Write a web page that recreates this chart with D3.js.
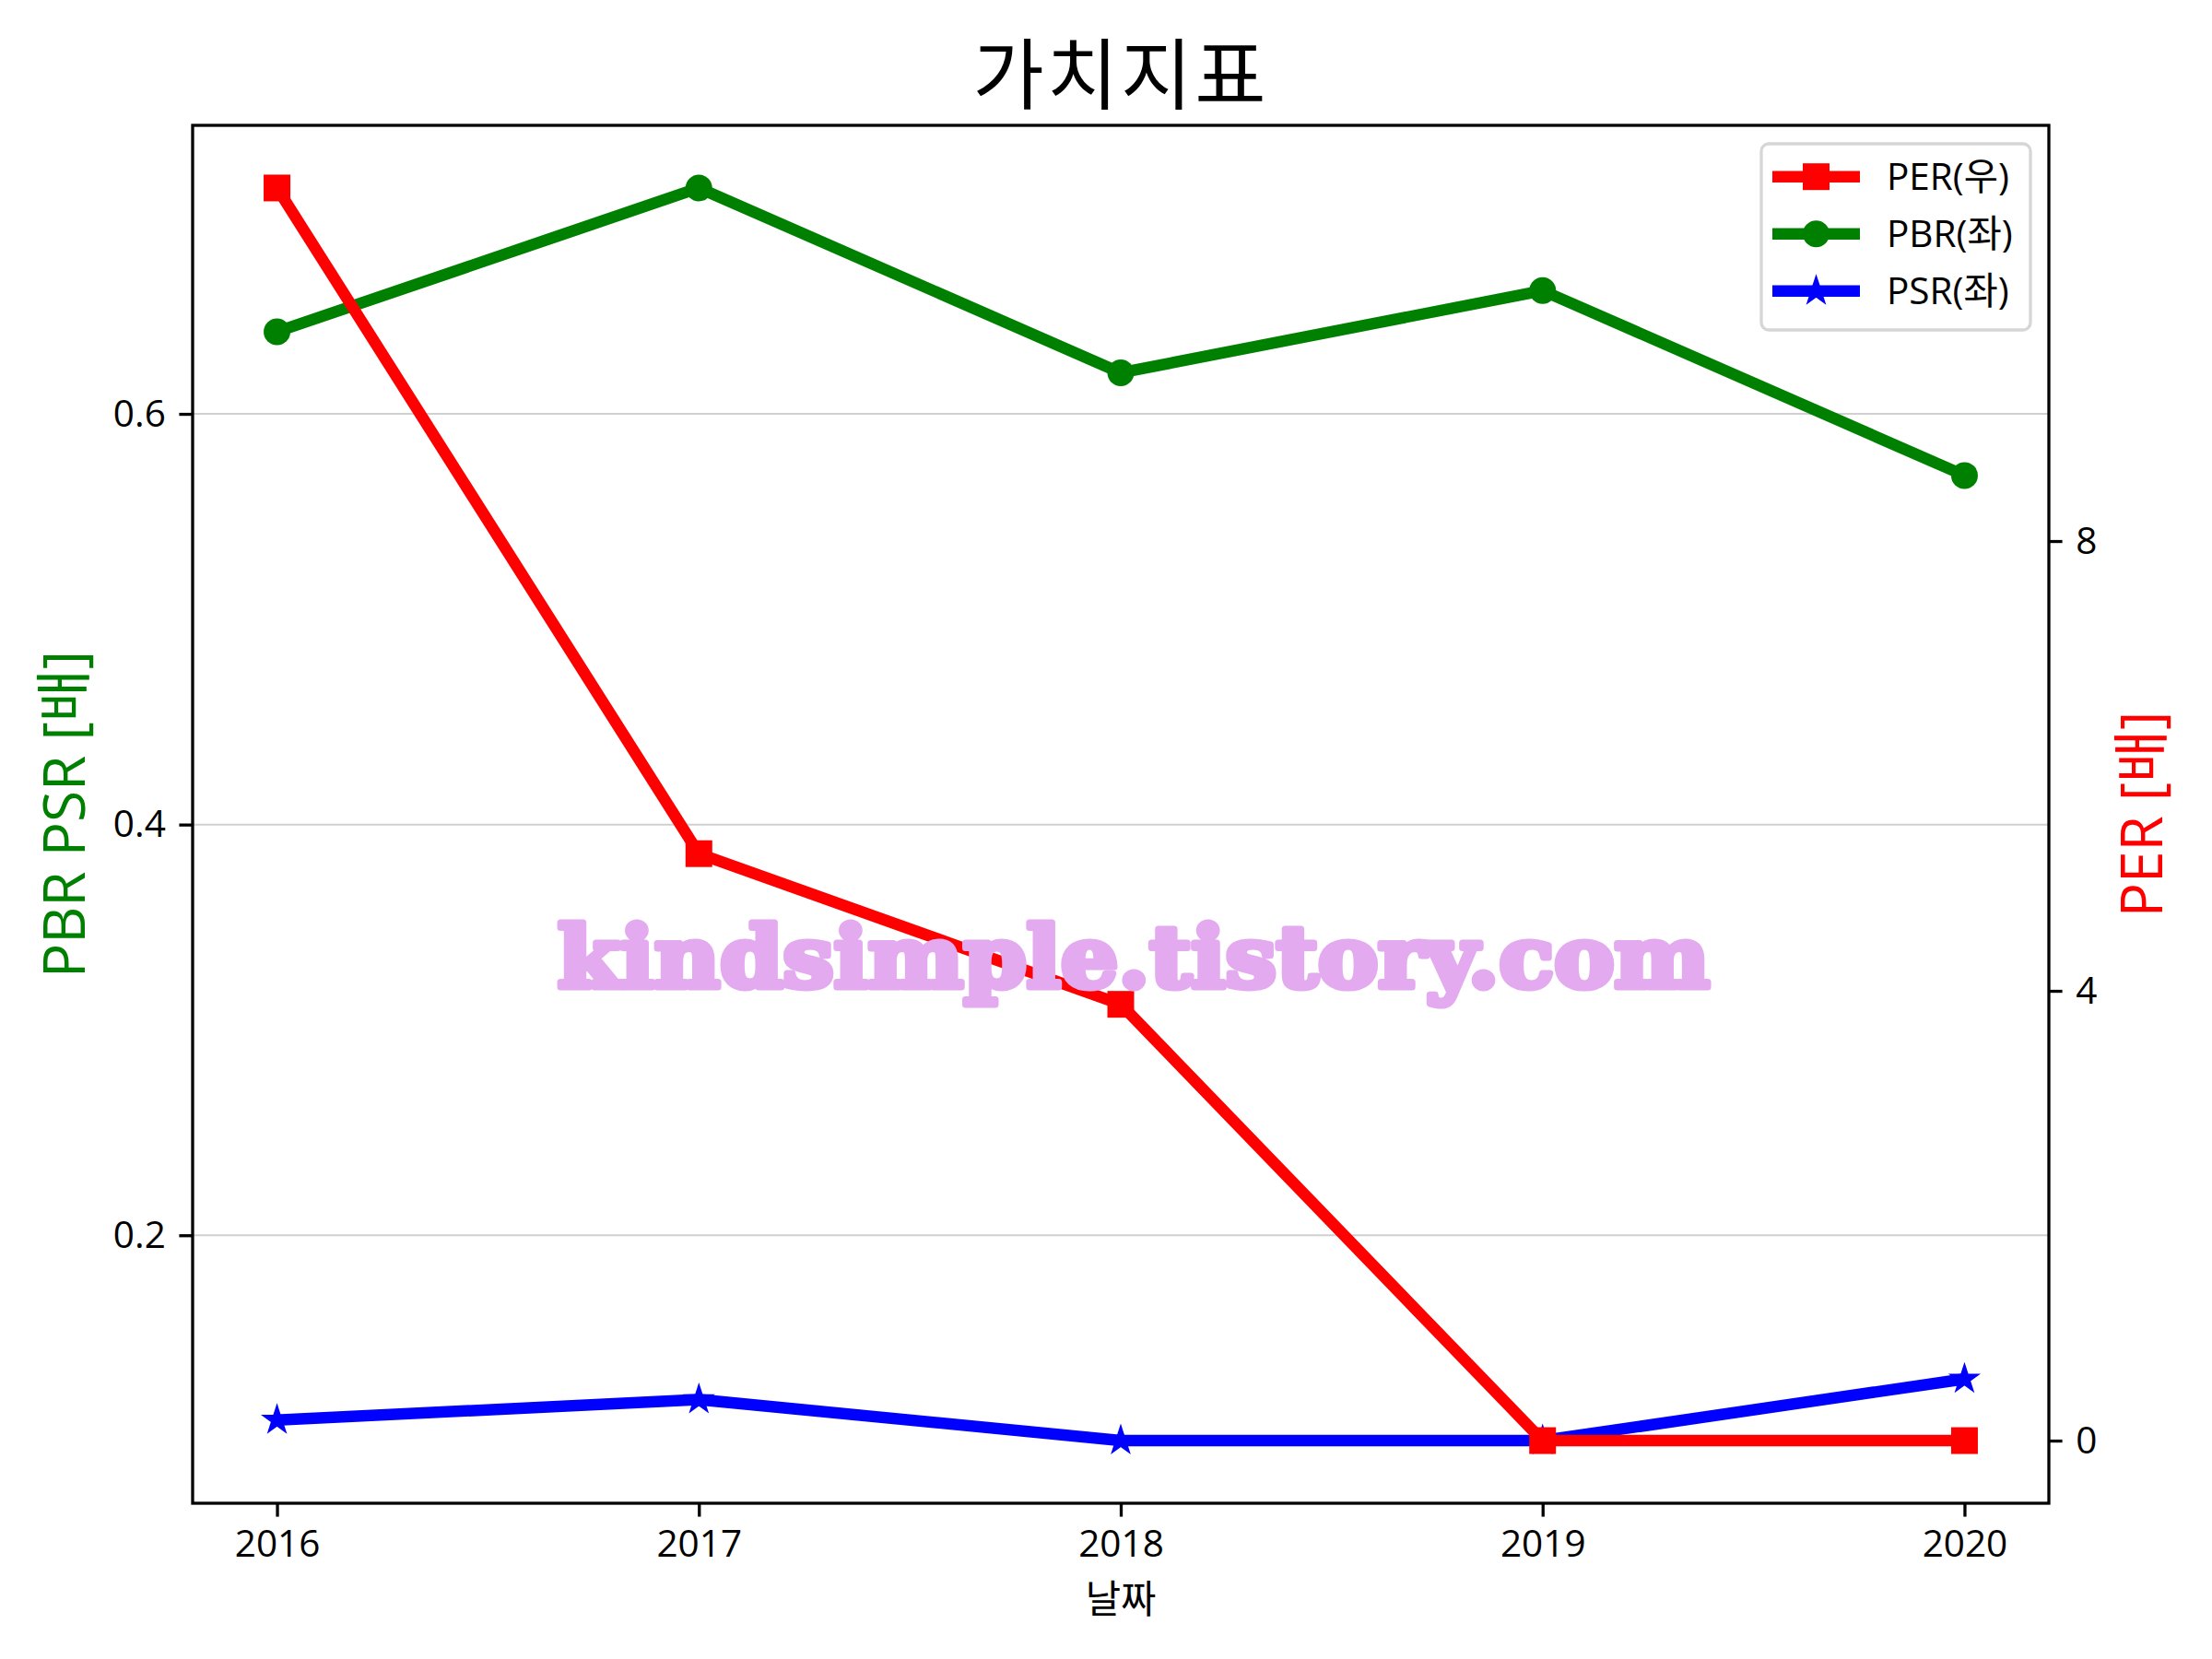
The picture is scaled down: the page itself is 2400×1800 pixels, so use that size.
<!DOCTYPE html>
<html>
<head>
<meta charset="utf-8">
<script src="https://cdn.jsdelivr.net/npm/d3@7"></script>
<style>
  html, body { margin: 0; padding: 0; background: #fff; }
  svg { display: block; }
  text { font-family: "Open Sans", "Noto Sans CJK KR", sans-serif; }
</style>
</head>
<body>
<svg id="chart" width="2400" height="1800"></svg>
<script>
// ---- data ----
const years = [2016, 2017, 2018, 2019, 2020];
const perValues = [11.14, 5.22, 3.88, 0, 0];       // right axis
const pbrValues = [0.64, 0.71, 0.62, 0.66, 0.57];   // left axis
const psrValues = [0.11, 0.12, 0.10, 0.10, 0.13];   // left axis
const leftTicks = [0.2, 0.4, 0.6];
const rightTicks = [0, 4, 8];
const xTicks = [2016, 2017, 2018, 2019, 2020];
const titleText = "가치지표";
const xLabel = "날짜";
const leftLabel = "PBR PSR [배]";
const rightLabel = "PER [배]";
const legendLabels = ["PER(우)", "PBR(좌)", "PSR(좌)"];
const watermark = "kindsimple.tistory.com";

// ---- layout ----
const L = 209, R = 2223, T = 136, B = 1631;
const tickFont = 40.5, tick = 14.6, spineW = 3.3;
const lw = 12.5, ms = 29;

const svg = d3.select("#chart");

function padDomain(vals) {
  const mn = d3.min(vals), mx = d3.max(vals), m = (mx - mn) * 0.05;
  return [mn - m, mx + m];
}
const x = d3.scaleLinear().domain(padDomain(years)).range([L, R]);
const yL = d3.scaleLinear().domain(padDomain(pbrValues.concat(psrValues))).range([B, T]);
const yR = d3.scaleLinear().domain(padDomain(perValues)).range([B, T]);

// grid
svg.append("g").selectAll("line").data(leftTicks).join("line")
  .attr("x1", L).attr("x2", R)
  .attr("y1", d => yL(d)).attr("y2", d => yL(d))
  .attr("stroke", "#d0d0d0").attr("stroke-width", 2);

const plot = svg.append("g");

function starPath(r) {
  const ri = r * 0.381966, pts = [];
  for (let i = 0; i < 10; i++) {
    const a = -Math.PI / 2 + i * Math.PI / 5;
    const rr = i % 2 === 0 ? r : ri;
    pts.push([rr * Math.cos(a), rr * Math.sin(a)]);
  }
  return "M" + pts.map(p => p.join(",")).join("L") + "Z";
}

function drawSeries(vals, yScale, color, marker) {
  const g = plot.append("g");
  const line = d3.line().x((d, i) => x(years[i])).y(d => yScale(d));
  g.append("path").attr("d", line(vals)).attr("fill", "none")
    .attr("stroke", color).attr("stroke-width", lw).attr("stroke-linejoin", "round")
    .attr("stroke-linecap", "butt");
  const pts = g.selectAll("g.m").data(vals).join("g")
    .attr("transform", (d, i) => `translate(${x(years[i])},${yScale(d)})`);
  drawMarker(pts, color, marker);
}
function drawMarker(sel, color, marker) {
  if (marker === "square") {
    sel.append("rect").attr("x", -ms / 2).attr("y", -ms / 2).attr("width", ms).attr("height", ms).attr("fill", color);
  } else if (marker === "circle") {
    sel.append("circle").attr("r", ms / 2).attr("fill", color);
  } else {
    sel.append("path").attr("d", starPath(12)).attr("fill", color)
      .attr("stroke", color).attr("stroke-width", 4).attr("stroke-linejoin", "miter");
  }
}

drawSeries(pbrValues, yL, "#008000", "circle");
drawSeries(psrValues, yL, "#0000ff", "star");
drawSeries(perValues, yR, "#ff0000", "square");

// watermark
svg.append("text").attr("x", 1230).attr("y", 1071)
  .attr("text-anchor", "middle")
  .attr("textLength", 1250).attr("lengthAdjust", "spacingAndGlyphs")
  .style("font-family", "'DejaVu Serif', serif").style("font-weight", "bold")
  .style("font-size", "92px").attr("fill", "#e4aaef")
  .attr("stroke", "#e4aaef").attr("stroke-width", 7).attr("stroke-linejoin", "round")
  .text(watermark);

// axes
function styleAxis(g) {
  g.selectAll("text").style("font-size", tickFont + "px").attr("fill", "#000");
  g.selectAll(".tick line").attr("stroke", "#000").attr("stroke-width", spineW);
  g.select(".domain").remove();
}
const gx = svg.append("g").attr("transform", `translate(0,${B})`)
  .call(d3.axisBottom(x).tickValues(xTicks).tickFormat(d3.format("d")).tickSize(tick).tickPadding(tick));
styleAxis(gx);
gx.selectAll("text").attr("dy", "0.71em");

const gl = svg.append("g").attr("transform", `translate(${L},0)`)
  .call(d3.axisLeft(yL).tickValues(leftTicks).tickFormat(d3.format(".1f")).tickSize(tick).tickPadding(tick));
styleAxis(gl);

const gr = svg.append("g").attr("transform", `translate(${R},0)`)
  .call(d3.axisRight(yR).tickValues(rightTicks).tickFormat(d3.format("d")).tickSize(tick).tickPadding(tick));
styleAxis(gr);

// frame
svg.append("rect").attr("x", L).attr("y", T).attr("width", R - L).attr("height", B - T)
  .attr("fill", "none").attr("stroke", "#000").attr("stroke-width", spineW);

// title & labels
svg.append("text").attr("x", (L + R) / 2).attr("y", 112).attr("text-anchor", "middle")
  .style("font-size", "84px").style("letter-spacing", "3px").attr("fill", "#000").text(titleText);
svg.append("text").attr("x", (L + R) / 2).attr("y", 1750).attr("text-anchor", "middle")
  .style("font-size", "41.7px").attr("fill", "#000").text(xLabel);
svg.append("text").attr("transform", `translate(92,${(T + B) / 2}) rotate(-90)`)
  .attr("text-anchor", "middle").style("font-size", "62px").attr("fill", "#008000").text(leftLabel);
svg.append("text").attr("transform", `translate(2346,${(T + B) / 2}) rotate(-90)`)
  .attr("text-anchor", "middle").style("font-size", "62px").attr("fill", "#ff0000").text(rightLabel);

// legend
const leg = svg.append("g");
leg.append("rect").attr("x", 1911).attr("y", 156).attr("width", 292).attr("height", 202)
  .attr("rx", 8).attr("fill", "#fff").attr("fill-opacity", 0.8)
  .attr("stroke", "#d6d6d6").attr("stroke-width", 3.3);
const legColors = ["#ff0000", "#008000", "#0000ff"];
const legMarkers = ["square", "circle", "star"];
const legY = d3.scalePoint().domain(legendLabels).range([191.7, 315.7]);
legendLabels.forEach((lab, i) => {
  const yy = legY(lab);
  leg.append("line").attr("x1", 1923).attr("x2", 2018).attr("y1", yy).attr("y2", yy)
    .attr("stroke", legColors[i]).attr("stroke-width", lw);
  const m = leg.append("g").attr("transform", `translate(1970.5,${yy})`);
  drawMarker(m, legColors[i], legMarkers[i]);
  leg.append("text").attr("x", 2047).attr("y", yy).attr("dy", "0.35em")
    .style("font-size", tickFont + "px").attr("fill", "#000").text(lab);
});
</script>
</body>
</html>
